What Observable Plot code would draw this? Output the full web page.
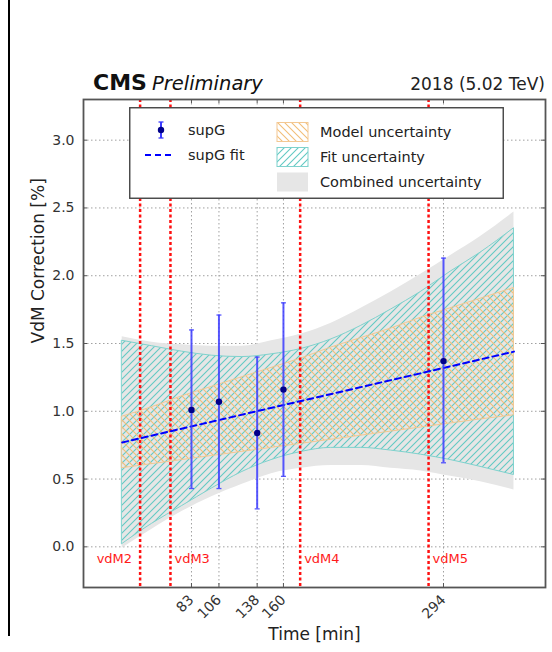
<!DOCTYPE html>
<html><head><meta charset="utf-8">
<script src="https://cdn.jsdelivr.net/npm/d3@7"></script>
<script src="https://cdn.jsdelivr.net/npm/@observablehq/plot@0.6"></script>
<style>
body{margin:0;background:#fff;font-family:"DejaVu Sans",sans-serif;}
#wrap{position:relative;width:552px;height:652px;overflow:hidden;background:#fff;}
#edge{position:absolute;left:8px;top:0;width:2px;height:636px;background:#000;}
#legend{position:absolute;left:129px;top:107px;}
#defs{position:absolute;left:0;top:0;}
#header{display:block;}
</style></head><body>
<div id="wrap">
<svg id="defs" width="0" height="0">
  <defs>
    <pattern id="hatchFit" patternUnits="userSpaceOnUse" width="7" height="7">
      <path d="M-1,1 l2,-2 M0,7 l7,-7 M6,8 l2,-2" stroke="#62c9c3" stroke-width="1.1" fill="none"/>
    </pattern>
    <pattern id="hatchModel" patternUnits="userSpaceOnUse" width="7" height="7">
      <path d="M-1,6 l2,2 M0,0 l7,7 M6,-1 l2,2" stroke="#f2be78" stroke-width="1.1" fill="none"/>
    </pattern>
  </defs>
</svg>
<svg id="header" width="552" height="95" font-family="DejaVu Sans, sans-serif">
  <text x="93" y="90" font-size="22" font-weight="bold" fill="#111">CMS</text>
  <text x="152" y="90" font-size="19.5" font-style="italic" fill="#111">Preliminary</text>
  <text x="545" y="90" font-size="17" text-anchor="end" fill="#222">2018 (5.02 TeV)</text>
</svg>
<div id="chart"></div>
<div id="edge"></div>
<svg id="legend" width="375" height="92"></svg>
</div>
<script>
// ---- data ----
const pointTime  = [83, 106, 138, 160, 294];
const pointValue = [1.01, 1.07, 0.84, 1.16, 1.37];
const pointLow   = [0.43, 0.43, 0.28, 0.52, 0.62];
const pointHigh  = [1.60, 1.71, 1.40, 1.80, 2.13];

const fitTime  = [25, 353];
const fitValue = [0.77, 1.44];

const bandTime     = [25, 50, 75, 100, 125, 150, 175, 200, 225, 250, 275, 300, 325, 353];
const fitHigh      = [1.52, 1.48, 1.44, 1.41, 1.40, 1.42, 1.46, 1.53, 1.63, 1.75, 1.88, 2.03, 2.17, 2.35];
const fitLow       = [0.02, 0.17, 0.30, 0.43, 0.55, 0.64, 0.70, 0.73, 0.73, 0.71, 0.68, 0.64, 0.59, 0.53];
const modelHigh    = [0.96, 1.03, 1.11, 1.18, 1.25, 1.32, 1.39, 1.47, 1.54, 1.61, 1.69, 1.76, 1.83, 1.91];
const modelLow     = [0.58, 0.61, 0.64, 0.67, 0.70, 0.73, 0.76, 0.79, 0.82, 0.85, 0.88, 0.91, 0.94, 0.97];
const combinedHigh = [1.55, 1.51, 1.49, 1.48, 1.48, 1.52, 1.57, 1.65, 1.76, 1.88, 2.01, 2.15, 2.29, 2.47];
const combinedLow  = [-0.01, 0.13, 0.26, 0.37, 0.46, 0.54, 0.58, 0.60, 0.60, 0.58, 0.56, 0.52, 0.48, 0.42];

const vdmTime  = [40, 65.4, 174, 281.5];
const vdmLabel = ["vdM2", "vdM3", "vdM4", "vdM5"];

const xTicks = [83, 106, 138, 160, 294];
const yTicks = [0, 0.5, 1.0, 1.5, 2.0, 2.5, 3.0];

const legendPointLabels = ["supG", "supG fit"];
const legendBandLabels  = ["Model uncertainty", "Fit uncertainty", "Combined uncertainty"];

// ---- tables ----
const bands = bandTime.map((t, i) => ({t, cLo: combinedLow[i], cHi: combinedHigh[i], fLo: fitLow[i], fHi: fitHigh[i], mLo: modelLow[i], mHi: modelHigh[i]}));
const pts = pointTime.map((t, i) => ({t, v: pointValue[i], lo: pointLow[i], hi: pointHigh[i]}));
const fit = fitTime.map((t, i) => ({t, v: fitValue[i]}));
const vdm = vdmTime.map((t, i) => ({t, label: vdmLabel[i]}));

const cap = {draw(ctx, size) { const w = Math.sqrt(size / Math.PI); ctx.moveTo(-w, 0); ctx.lineTo(w, 0); }};
const errColor = "#3a3aff";

const W = 552, H = 557, mT = 4, mB = 65, mL = 83, mR = 7;
const frameW = W - mL - mR, frameH = H - mT - mB, tick = 4;

const plot = Plot.plot({
  width: W, height: H,
  marginTop: mT, marginBottom: mB, marginLeft: mL, marginRight: mR,
  style: {fontFamily: "DejaVu Sans, sans-serif", fontSize: "14px", color: "#333", background: "transparent", overflow: "visible"},
  x: {domain: [-7.4, 379.4]},
  y: {domain: [-0.3, 3.3]},
  marks: [
    Plot.gridY(yTicks, {stroke: "#a0a0a0", strokeOpacity: 1, strokeDasharray: "1.5,2.5"}),
    Plot.gridX(xTicks, {stroke: "#a0a0a0", strokeOpacity: 1, strokeDasharray: "1.5,2.5"}),
    Plot.areaY(bands, {x: "t", y1: "cLo", y2: "cHi", fill: "#e6e6e6", curve: "monotone-x"}),
    Plot.areaY(bands, {x: "t", y1: "fLo", y2: "fHi", fill: "url(#hatchFit)", stroke: "#7ed2cd", strokeWidth: 1, curve: "monotone-x"}),
    Plot.areaY(bands, {x: "t", y1: "mLo", y2: "mHi", fill: "url(#hatchModel)", stroke: "#f3c893", strokeWidth: 1, curve: "monotone-x"}),
    Plot.ruleX(vdm, {x: "t", stroke: "#ff1010", strokeWidth: 2.5, strokeDasharray: "3,2.5"}),
    Plot.line(fit, {x: "t", y: "v", stroke: "#0000ff", strokeWidth: 2, strokeDasharray: "6,4"}),
    Plot.ruleX(pts, {x: "t", y1: "lo", y2: "hi", stroke: errColor, strokeWidth: 2, strokeOpacity: 0.85}),
    Plot.dot(pts, {x: "t", y: "lo", symbol: cap, r: 2.5, stroke: errColor, strokeWidth: 1.3, strokeOpacity: 0.85}),
    Plot.dot(pts, {x: "t", y: "hi", symbol: cap, r: 2.5, stroke: errColor, strokeWidth: 1.3, strokeOpacity: 0.85}),
    Plot.dot(pts, {x: "t", y: "v", r: 3.2, fill: "#00008b", stroke: "none"}),
    Plot.text(vdm.slice(0, 1), {x: "t", text: "label", frameAnchor: "bottom", dy: -25, dx: -8, textAnchor: "end", fill: "#ff1a1a", fontSize: 13}),
    Plot.text(vdm.slice(1), {x: "t", text: "label", frameAnchor: "bottom", dy: -25, dx: 4, textAnchor: "start", fill: "#ff1a1a", fontSize: 13}),
    // inward tick marks on all four sides
    Plot.ruleX(xTicks, {stroke: "#555", strokeWidth: 1, insetTop: frameH - tick}),
    Plot.ruleX(xTicks, {stroke: "#555", strokeWidth: 1, insetBottom: frameH - tick}),
    Plot.ruleY(yTicks, {stroke: "#555", strokeWidth: 1, insetRight: frameW - tick}),
    Plot.ruleY(yTicks, {stroke: "#555", strokeWidth: 1, insetLeft: frameW - tick}),
    Plot.axisY(yTicks, {tickFormat: d => d.toFixed(1), tickSize: 0, tickPadding: 9, fontSize: 14, fill: "#333", label: null}),
    Plot.axisX(xTicks, {tickRotate: -45, tickSize: 0, tickPadding: 10, fontSize: 14, fill: "#333", label: null}),
    Plot.text(["Time [min]"], {frameAnchor: "bottom", dy: 52, fontSize: 17, fill: "#222"}),
    Plot.text(["VdM Correction [%]"], {frameAnchor: "left", dx: -45, rotate: -90, fontSize: 17, fill: "#222"}),
    Plot.frame({stroke: "#555", strokeWidth: 1.8})
  ]
});
document.getElementById("chart").appendChild(plot);

// ---- legend ----
const lg = d3.select("#legend").attr("font-family", "DejaVu Sans, sans-serif");
lg.append("rect").attr("x", 0.75).attr("y", 0.75).attr("width", 373.5).attr("height", 90.5)
  .attr("fill", "#fff").attr("stroke", "#444").attr("stroke-width", 1.4);
// errorbar sample
lg.append("line").attr("x1", 32).attr("x2", 32).attr("y1", 15).attr("y2", 31).attr("stroke", errColor).attr("stroke-width", 2);
lg.append("line").attr("x1", 29.5).attr("x2", 34.5).attr("y1", 15).attr("y2", 15).attr("stroke", errColor).attr("stroke-width", 1.3);
lg.append("line").attr("x1", 29.5).attr("x2", 34.5).attr("y1", 31).attr("y2", 31).attr("stroke", errColor).attr("stroke-width", 1.3);
lg.append("circle").attr("cx", 32).attr("cy", 23).attr("r", 3.2).attr("fill", "#00008b");
// fit sample
lg.append("line").attr("x1", 16).attr("x2", 44).attr("y1", 48).attr("y2", 48).attr("stroke", "#0000ff").attr("stroke-width", 2).attr("stroke-dasharray", "6,4");
legendPointLabels.forEach((s, i) => {
  lg.append("text").attr("x", 59).attr("y", 23 + 25 * i).attr("dy", "0.35em").attr("font-size", 14.5).attr("fill", "#222").text(s);
});
const swatchFill = ["url(#hatchModel)", "url(#hatchFit)", "#e6e6e6"];
const swatchStroke = ["#f3c893", "#7ed2cd", "none"];
legendBandLabels.forEach((s, i) => {
  lg.append("rect").attr("x", 148).attr("y", 15.5 + 25 * i).attr("width", 31).attr("height", 19)
    .attr("fill", swatchFill[i]).attr("stroke", swatchStroke[i]).attr("stroke-width", 1);
  lg.append("text").attr("x", 191).attr("y", 25 + 25 * i).attr("dy", "0.35em").attr("font-size", 14.5).attr("fill", "#222").text(s);
});
</script>
</body></html>
